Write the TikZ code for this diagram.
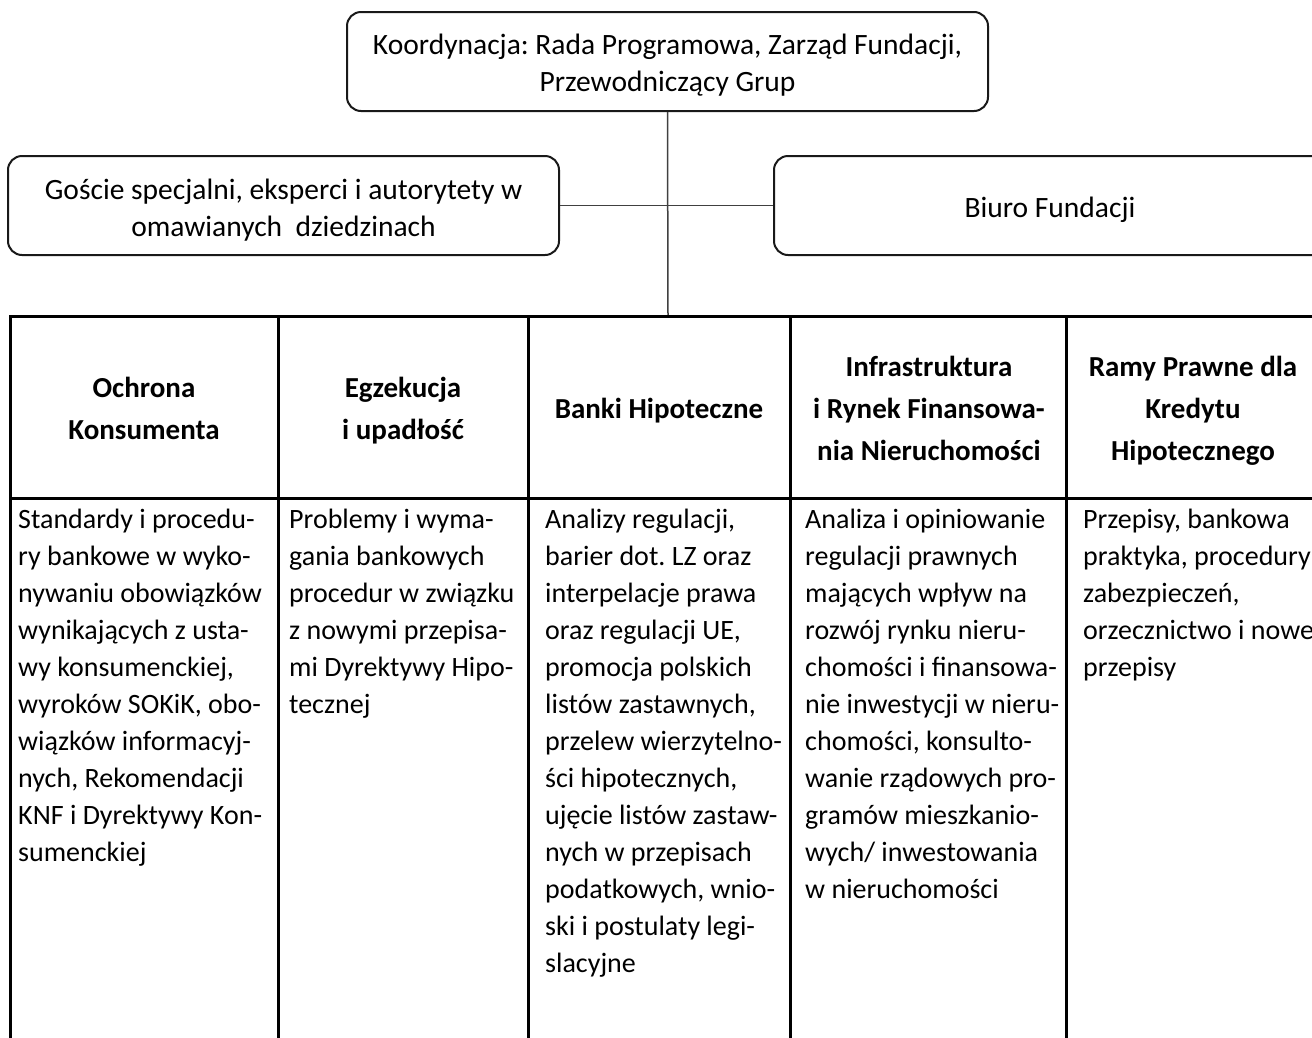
\documentclass[tikz,border=0pt]{standalone}
\usepackage{fontspec}
\setmainfont{Carlito}
\frenchspacing
\begin{document}
\begin{tikzpicture}[x=1pt,y=-1pt,
  rbox/.style={draw=black!90, line width=2pt, rounded corners=14pt, inner sep=0pt, align=center, font=\frenchspacing\fontsize{29.5}{37}\selectfont},
  conn/.style={draw=black!75, line width=1.5pt},
  gridline/.style={draw=black, line width=3pt},
  head/.style={inner sep=0pt, align=center, font=\frenchspacing\fontsize{29}{42}\selectfont\bfseries},
  body/.style={inner sep=0pt, align=left, anchor=north west, font=\frenchspacing\fontsize{28}{37}\selectfont}]
\useasboundingbox (0,0) rectangle (1312,1037);
\fill[white] (0,0) rectangle (1312,1037);

% top boxes
\node[rbox, minimum width=641pt, minimum height=99pt] (coord) at (667.5,61.5)
  {\rule{0pt}{34pt}Koordynacja: Rada Programowa, Zarząd Fundacji,\\\strut Przewodniczący Grup};
\node[rbox, minimum width=551pt, minimum height=99pt] (guests) at (283.5,205.5)
  {\rule{0pt}{37pt}Goście specjalni, eksperci i autorytety w\\\strut omawianych\ \ dziedzinach};
\node[rbox, minimum width=552pt, minimum height=99pt] (biuro) at (1050,205.5)
  {\rule[-11pt]{0pt}{45pt}Biuro Fundacji};

% connectors
\coordinate (tabtop) at (668,316);
\draw[conn] (coord.south) -- (tabtop);
\draw[conn] (guests.east) -- (biuro.west);

% table
\foreach \xa/\xb in {10/278,278/528,528/790,790/1066,1066/1322}{
  \draw[gridline] (\xa,316) rectangle (\xb,1060);
}
\draw[gridline] (10,498) -- (1322,498);

% headers
\node[head] (h1) at (144,410) {\strut Ochrona\\\strut Konsumenta};
\node[head] (h2) at (403,410) {\strut Egzekucja\\\strut i upadłość};
\node[head] (h3) at (659,410) {\strut Banki Hipoteczne};
\node[head] (h4) at (929,410) {\strut Infrastruktura\\\strut i Rynek Finansowa-\\\strut nia Nieruchomości};
\node[head] (h5) at (1193,410) {\strut Ramy Prawne dla\\\strut Kredytu\\\strut Hipotecznego};

% body
\node[body] (b1) at (18,502) {\strut Standardy i procedu-\\ry bankowe w wyko-\\nywaniu obowiązków\\wynikających z usta-\\wy konsumenckiej,\\wyroków SOKiK, obo-\\wiązków informacyj-\\nych, Rekomendacji\\KNF i Dyrektywy Kon-\\sumenckiej};
\node[body] (b2) at (289,502) {\strut Problemy i wyma-\\gania bankowych\\procedur w związku\\z nowymi przepisa-\\mi Dyrektywy Hipo-\\tecznej};
\node[body] (b3) at (545,502) {\strut Analizy regulacji,\\barier dot. LZ oraz\\interpelacje prawa\\oraz regulacji UE,\\promocja polskich\\listów zastawnych,\\przelew wierzytelno-\\ści hipotecznych,\\ujęcie listów zastaw-\\nych w przepisach\\podatkowych, wnio-\\ski i postulaty legi-\\slacyjne};
\node[body] (b4) at (805,502) {\strut Analiza i opiniowanie\\regulacji prawnych\\mających wpływ na\\rozwój rynku nieru-\\chomości i finansowa-\\nie inwestycji w nieru-\\chomości, konsulto-\\wanie rządowych pro-\\gramów mieszkanio-\\wych/ inwestowania\\w nieruchomości};
\node[body] (b5) at (1083,502) {\strut Przepisy, bankowa\\praktyka, procedury\\zabezpieczeń,\\orzecznictwo i nowe\\przepisy};
\end{tikzpicture}
\end{document}
